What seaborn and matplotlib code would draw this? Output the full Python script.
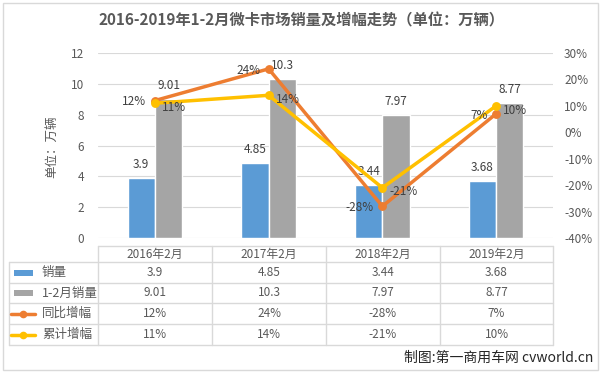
import pandas as pd
import numpy as np
import matplotlib.pyplot as plt
import seaborn as sns
from matplotlib.lines import Line2D
from matplotlib.patches import Rectangle

months = ['2016年2月', '2017年2月', '2018年2月', '2019年2月']
sales_feb = [3.9, 4.85, 3.44, 3.68]
sales_jan_feb = [9.01, 10.3, 7.97, 8.77]
yoy_growth = [12, 24, -28, 7]
cum_growth = [11, 14, -21, 10]
series_names = ['销量', '1-2月销量', '同比增幅', '累计增幅']

c_blue, c_gray, c_orange, c_yellow = '#5B9BD5', '#A5A5A5', '#ED7D31', '#FFC000'
txt = '#595959'

sns.set_style('white')
plt.rcParams['font.family'] = ['Noto Sans CJK SC', 'DejaVu Sans']

W, H = 603, 375
fig = plt.figure(figsize=(W / 100, H / 100), dpi=100)

def fx(x):
    return x / W

def fy(y):
    return 1 - y / H

# chart border
fig.add_artist(Rectangle((fx(3), fy(370)), fx(595), (367) / H, transform=fig.transFigure,
                         fill=False, edgecolor='#D9D9D9', lw=1))

ax = fig.add_axes([fx(98), fy(238), (553 - 98) / W, (238 - 53) / H])

bars = pd.DataFrame({
    'month': months * 2,
    'series': [series_names[0]] * 4 + [series_names[1]] * 4,
    'value': sales_feb + sales_jan_feb,
})
sns.barplot(data=bars, x='month', y='value', hue='series', palette=[c_blue, c_gray],
            width=0.48, gap=0, ax=ax, legend=False, saturation=1)
for cont in ax.containers:
    ax.bar_label(cont, fmt='%g', padding=5, fontsize=8.5, color='#404040')

ax.set_ylim(0, 12)
ax.set_yticks(np.arange(0, 13, 2))
ax.yaxis.grid(True, color='#D9D9D9', lw=0.8)
ax.set_axisbelow(True)
for s in ax.spines.values():
    s.set_visible(False)
ax.set_xlabel('')
ax.set_ylabel('')
ax.tick_params(axis='y', length=0, labelsize=8.5, labelcolor=txt, pad=10)
ax.tick_params(axis='x', length=0, labelbottom=False)

ax2 = ax.twinx()
lines = pd.DataFrame({
    'month': months * 2,
    'series': [series_names[2]] * 4 + [series_names[3]] * 4,
    'value': [v / 100 for v in yoy_growth + cum_growth],
})
sns.pointplot(data=lines, x='month', y='value', hue='series', palette=[c_orange, c_yellow],
              errorbar=None, markers='o', linewidth=2.5, markersize=4.5, ax=ax2, legend=False)
ax2.set_ylim(-0.4, 0.3)
ax2.set_yticks(np.arange(-0.4, 0.31, 0.1))
ax2.set_yticklabels([f'{round(t * 100)}%' for t in np.arange(-0.4, 0.31, 0.1)])
ax2.tick_params(axis='y', length=0, labelsize=8.5, labelcolor=txt, pad=8)
ax2.tick_params(axis='x', length=0, labelbottom=False)
ax2.set_xlabel('')
ax2.set_ylabel('')
for s in ax2.spines.values():
    s.set_visible(False)
ax.set_xlim(-0.5, 3.5)

for i, v in enumerate(yoy_growth):
    ax2.annotate(f'{v}%', (i, v / 100), xytext=(-6, -1), textcoords='offset points',
                 ha='right', va='center', fontsize=8.5, color='#404040')
for i, v in enumerate(cum_growth):
    ax2.annotate(f'{v}%', (i, v / 100), xytext=(5, -3), textcoords='offset points',
                 ha='left', va='center', fontsize=8.5, color='#404040')

fig.text(0.5, fy(20), '2016-2019年1-2月微卡市场销量及增幅走势（单位：万辆）', ha='center', va='center',
         fontsize=11, fontweight='bold', color=txt)
fig.text(fx(52), fy(147), '单位：万辆', rotation=90, ha='center', va='center', fontsize=9, color=txt)

# data table
col_x = [98, 212, 326, 440, 553]
row_y = [246, 262, 283, 303, 324, 345]
grid_c = '#D9D9D9'

def hline(y, x0, x1):
    fig.add_artist(Line2D([fx(x0), fx(x1)], [fy(y), fy(y)], transform=fig.transFigure, color=grid_c, lw=1))

def vline(x, y0, y1):
    fig.add_artist(Line2D([fx(x), fx(x)], [fy(y0), fy(y1)], transform=fig.transFigure, color=grid_c, lw=1))

hline(row_y[0], col_x[0], col_x[-1])
for y in row_y[1:]:
    hline(y, 9, col_x[-1])
vline(9, row_y[1], row_y[-1])
for x in col_x:
    vline(x, row_y[0], row_y[-1])

for j, m in enumerate(months):
    cx = (col_x[j] + col_x[j + 1]) / 2
    fig.text(fx(cx), fy((row_y[0] + row_y[1]) / 2), m, ha='center', va='center', fontsize=8.5, color=txt)

table_rows = [
    [f'{v:g}' for v in sales_feb],
    [f'{v:g}' for v in sales_jan_feb],
    [f'{v}%' for v in yoy_growth],
    [f'{v}%' for v in cum_growth],
]
key_colors = [c_blue, c_gray, c_orange, c_yellow]
for r, (name, vals) in enumerate(zip(series_names, table_rows)):
    cy = (row_y[r + 1] + row_y[r + 2]) / 2
    if r < 2:
        fig.add_artist(Rectangle((fx(14), fy(cy + 3)), 19 / W, 6 / H, transform=fig.transFigure,
                                 color=key_colors[r], lw=0))
    else:
        fig.add_artist(Line2D([fx(11), fx(35)], [fy(cy), fy(cy)], transform=fig.transFigure,
                              color=key_colors[r], lw=2.5))
        fig.add_artist(Line2D([fx(23)], [fy(cy)], transform=fig.transFigure,
                              color=key_colors[r], marker='o', markersize=4.5, lw=0))
    fig.text(fx(42), fy(cy), name, ha='left', va='center', fontsize=9, color=txt)
    for j, v in enumerate(vals):
        cx = (col_x[j] + col_x[j + 1]) / 2
        fig.text(fx(cx), fy(cy), v, ha='center', va='center', fontsize=8.5, color=txt)

fig.text(fx(593), fy(358), '制图:第一商用车网 cvworld.cn', ha='right', va='center', fontsize=10, color='#262626')

fig.savefig('out.png', dpi=100)
